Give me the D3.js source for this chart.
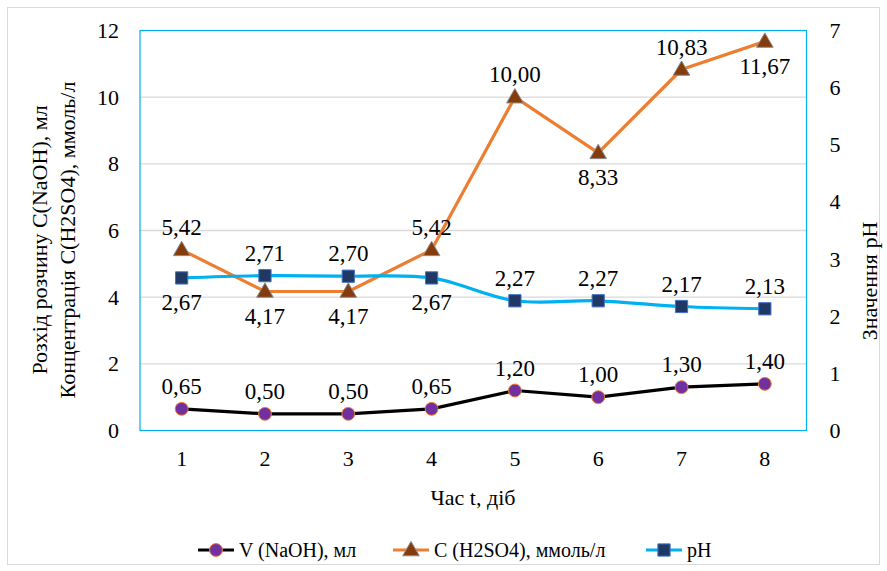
<!DOCTYPE html>
<html>
<head>
<meta charset="utf-8">
<script src="https://cdn.jsdelivr.net/npm/d3@7"></script>
<style>
  html, body { margin: 0; padding: 0; background: #fff; }
  #chart { display: block; }
  #chart text { font-family: "Liberation Serif", "Times New Roman", serif !important; fill: #000; }
</style>
</head>
<body>
<svg id="chart" width="887" height="571"></svg>
<script>
// Days of observation
const days = ["1", "2", "3", "4", "5", "6", "7", "8"];
// Volume of NaOH solution, ml (left axis)
const vNaOH = [0.65, 0.50, 0.50, 0.65, 1.20, 1.00, 1.30, 1.40];
// H2SO4 concentration, mmol/l (left axis)
const cH2SO4 = [5.42, 4.17, 4.17, 5.42, 10.00, 8.33, 10.83, 11.67];
// pH values (right axis)
const pH = [2.67, 2.71, 2.70, 2.67, 2.27, 2.27, 2.17, 2.13];
// Axis ticks
const leftTicks = [0, 2, 4, 6, 8, 10, 12];
const rightTicks = [0, 1, 2, 3, 4, 5, 6, 7];
// Where each value label sits relative to its point
const cLabelSide = ["above", "below", "below", "above", "above", "below", "above", "below"];
const phLabelSide = ["below", "above", "above", "below", "above", "above", "above", "above"];
const vLabelSide = ["above", "above", "above", "above", "above", "above", "above", "above"];

const svg = d3.select("#chart");
const W = 887, H = 571;
const plot = { left: 140, top: 30.5, right: 806.5, bottom: 430.5 };

function addText(parent, str, size) {
  return parent.append("text")
    .attr("font-family", "Liberation Serif")
    .style("font-size", size + "px")
    .text(str);
}

// outer chart frame
svg.append("rect")
  .attr("x", 7.5).attr("y", 7.5)
  .attr("width", W - 15).attr("height", H - 14)
  .attr("fill", "#fff").attr("stroke", "#d9d9d9").attr("stroke-width", 1);

const x = d3.scaleBand().domain(days).range([plot.left, plot.right]).padding(0);
const yL = d3.scaleLinear().domain([0, 12]).range([plot.bottom, plot.top]);
const yR = d3.scaleLinear().domain([0, 7]).range([plot.bottom, plot.top]);
const cx = d => x(d) + x.bandwidth() / 2;

// horizontal gridlines
svg.append("g").selectAll("line")
  .data(leftTicks.filter(t => t > 0 && t < 12))
  .join("line")
  .attr("x1", plot.left).attr("x2", plot.right)
  .attr("y1", d => yL(d)).attr("y2", d => yL(d))
  .attr("stroke", "#d9d9d9").attr("stroke-width", 1.3);

// plot area frame
svg.append("rect")
  .attr("x", plot.left).attr("y", plot.top)
  .attr("width", plot.right - plot.left).attr("height", plot.bottom - plot.top)
  .attr("fill", "none").attr("stroke", "#00b0f0").attr("stroke-width", 1.2);

// axes: labels only
const tickFont = 22;
const axL = svg.append("g")
  .attr("transform", `translate(${plot.left},0)`)
  .call(d3.axisLeft(yL).tickValues(leftTicks).tickSize(0).tickPadding(21).tickFormat(d3.format("d")));
const axR = svg.append("g")
  .attr("transform", `translate(${plot.right},0)`)
  .call(d3.axisRight(yR).tickValues(rightTicks).tickSize(0).tickPadding(23).tickFormat(d3.format("d")));
const axB = svg.append("g")
  .attr("transform", `translate(0,${plot.bottom})`)
  .call(d3.axisBottom(x).tickSize(0).tickPadding(20));
[axL, axR, axB].forEach(g => {
  g.attr("font-family", "Liberation Serif").attr("font-size", tickFont);
  g.select(".domain").remove();
  g.selectAll("text").style("font-size", tickFont + "px");
});

// axis titles
const titleFont = 22;
addText(svg, "Розхід розчину C(NaOH), мл", titleFont)
  .attr("transform", "translate(47,240) rotate(-90)").attr("text-anchor", "middle");
addText(svg, "Концентрація C(H2SO4), ммоль/л", titleFont)
  .attr("transform", "translate(75,240) rotate(-90)").attr("text-anchor", "middle");
addText(svg, "Значення pH", titleFont)
  .attr("transform", "translate(877,281) rotate(-90)").attr("text-anchor", "middle");
addText(svg, "Час t, діб", titleFont)
  .attr("x", 473).attr("y", 505).attr("text-anchor", "middle");

const fmt = v => d3.format(".2f")(v).replace(".", ",");

// series definitions
const series = [
  { name: "V (NaOH), мл", values: vNaOH, y: yL, line: "#000000", curve: d3.curveLinear,
    marker: "circle", fill: "#7030a0", stroke: "#ed7d31", sides: vLabelSide },
  { name: "C (H2SO4), ммоль/л", values: cH2SO4, y: yL, line: "#ed7d31", curve: d3.curveLinear,
    marker: "triangle", fill: "#843c0c", stroke: "#8c8c8c", sides: cLabelSide },
  { name: "pH", values: pH, y: yR, line: "#00b0f0", curve: d3.curveCatmullRom.alpha(0.5),
    marker: "square", fill: "#203864", stroke: "#4472c4", sides: phLabelSide }
];

const symbolFor = m => m === "circle" ? d3.symbolCircle : m === "triangle" ? d3.symbolTriangle : d3.symbolSquare;
const sizeFor = m => m === "circle" ? 130 : m === "triangle" ? 120 : 150;

// lines
series.forEach(s => {
  const line = d3.line()
    .x((d, i) => cx(days[i]))
    .y(d => s.y(d))
    .curve(s.curve);
  svg.append("path")
    .datum(s.values)
    .attr("d", line)
    .attr("fill", "none")
    .attr("stroke", s.line)
    .attr("stroke-width", 3.2)
    .attr("stroke-linejoin", "round");
});

// markers
series.forEach(s => {
  svg.append("g").selectAll("path")
    .data(s.values)
    .join("path")
    .attr("transform", (d, i) => `translate(${cx(days[i])},${s.y(d) + (s.marker === "triangle" ? 1 : 0)})`)
    .attr("d", d3.symbol().type(symbolFor(s.marker)).size(sizeFor(s.marker)))
    .attr("fill", s.fill)
    .attr("stroke", s.stroke)
    .attr("stroke-width", 1);
});

// value labels
const labelFont = 23;
series.forEach(s => {
  const g = svg.append("g");
  s.values.forEach((v, i) => {
    addText(g, fmt(v), labelFont)
      .attr("x", cx(days[i]))
      .attr("y", s.y(v) + (s.sides[i] === "above" ? -15 : 32))
      .attr("text-anchor", "middle");
  });
});

// legend
const legendY = 550;
const legendX = [198, 393, 646];
series.forEach((s, i) => {
  const g = svg.append("g").attr("transform", `translate(${legendX[i]},${legendY})`);
  g.append("line").attr("x1", 0).attr("x2", 36).attr("y1", 0).attr("y2", 0)
    .attr("stroke", s.line).attr("stroke-width", 3.2);
  g.append("path")
    .attr("transform", `translate(18,${s.marker === "triangle" ? 1 : 0})`)
    .attr("d", d3.symbol().type(symbolFor(s.marker)).size(sizeFor(s.marker)))
    .attr("fill", s.fill).attr("stroke", s.stroke).attr("stroke-width", 1);
  addText(g, s.name, 20).attr("x", 41).attr("y", 7);
});
</script>
</body>
</html>
